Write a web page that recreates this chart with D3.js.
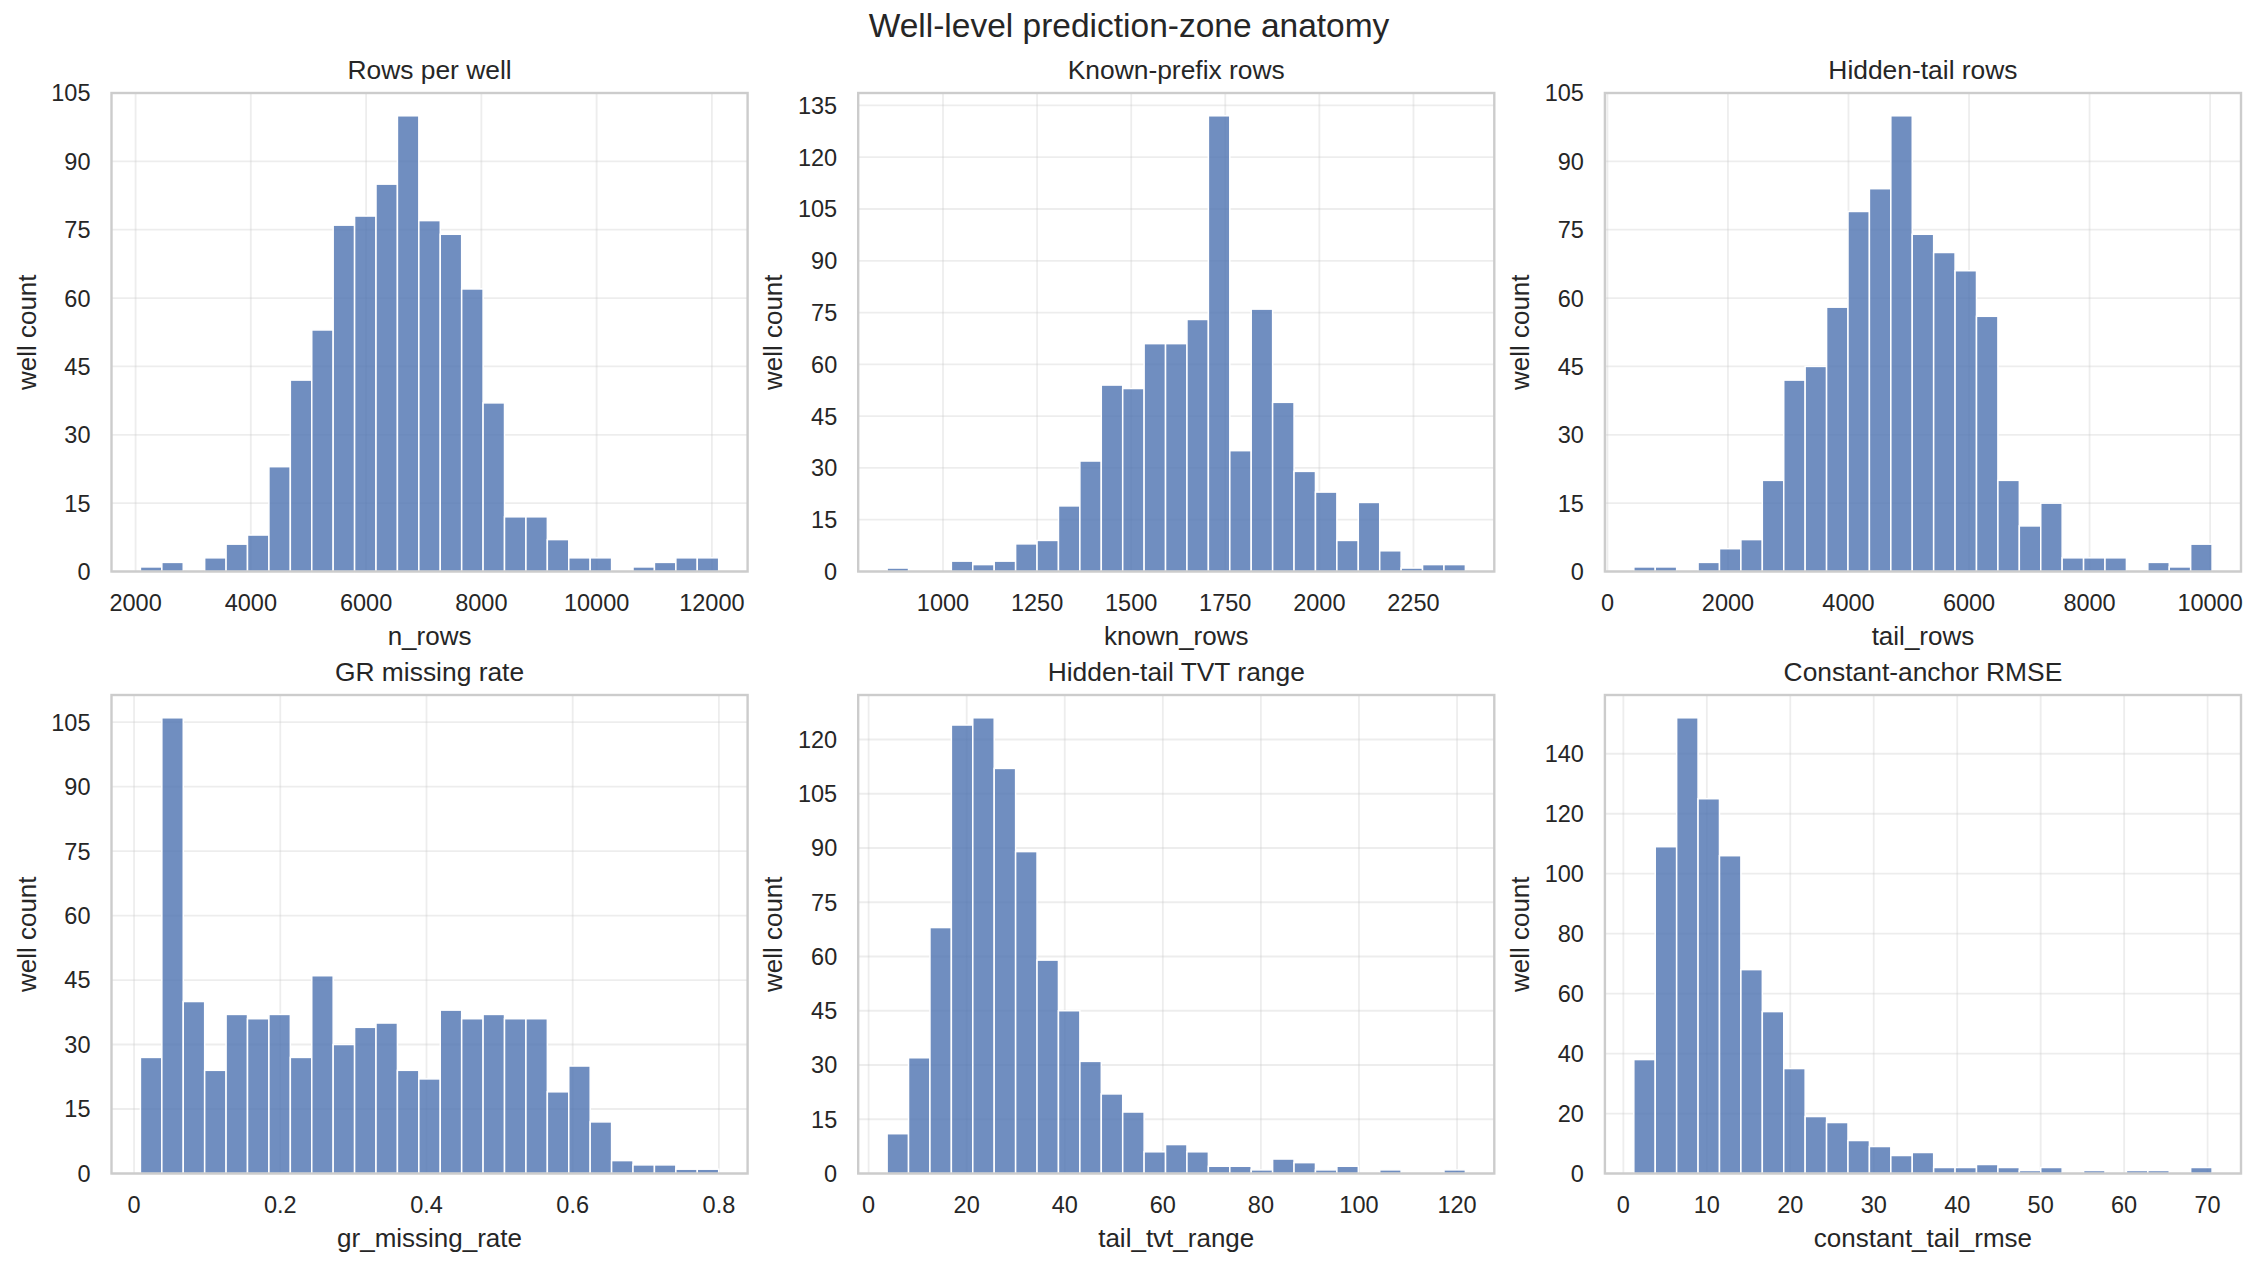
<!DOCTYPE html>
<html>
<head>
<meta charset="utf-8">
<script src="https://cdn.jsdelivr.net/npm/d3@7"></script>
<style>
  body { margin: 0; background: #fff; }
  text { font-family: "Liberation Sans", Arial, sans-serif; fill: #262626; }
</style>
</head>
<body>
<svg id="fig" width="2258" height="1266"></svg>
<script>

// counts per bin (27 bins each, 773 wells)
var n_rows_counts = [1,2,0,3,6,8,23,42,53,76,78,85,100,77,74,62,37,12,12,7,3,3,0,1,2,3,3];
var n_rows_range = [2084, 12118];
var n_rows_xticks = [2000,4000,6000,8000,10000,12000];
var n_rows_yticks = [0,15,30,45,60,75,90,105];

var known_counts = [1,0,0,3,2,3,8,9,19,32,54,53,66,66,73,132,35,76,49,29,23,9,20,6,1,2,2];
var known_range = [851.5, 2388];
var known_xticks = [1000,1250,1500,1750,2000,2250];
var known_yticks = [0,15,30,45,60,75,90,105,120,135];

var tail_counts = [1,1,0,2,5,7,20,42,45,58,79,84,100,74,70,66,56,20,10,15,3,3,3,0,2,1,6];
var tail_range = [438, 10033];
var tail_xticks = [0,2000,4000,6000,8000,10000];
var tail_yticks = [0,15,30,45,60,75,90,105];

var gr_counts = [27,106,40,24,37,36,37,27,46,30,34,35,24,22,38,36,37,36,36,19,25,12,3,2,2,1,1];
var gr_range = [0.0087, 0.7997];
var gr_xticks = [0,0.2,0.4,0.6,0.8];
var gr_yticks = [0,15,30,45,60,75,90,105];

var tvt_counts = [11,32,68,124,126,112,89,59,45,31,22,17,6,8,6,2,2,1,4,3,1,2,0,1,0,0,1];
var tvt_range = [3.77, 121.7];
var tvt_xticks = [0,20,40,60,80,100,120];
var tvt_yticks = [0,15,30,45,60,75,90,105,120];

var rmse_counts = [38,109,152,125,106,68,54,35,19,17,11,9,6,7,2,2,3,2,1,2,0,1,0,1,1,0,2];
var rmse_range = [1.25, 70.54];
var rmse_xticks = [0,10,20,30,40,50,60,70];
var rmse_yticks = [0,20,40,60,80,100,120,140];

var titles = ["Rows per well","Known-prefix rows","Hidden-tail rows","GR missing rate","Hidden-tail TVT range","Constant-anchor RMSE"];
var xlabels = ["n_rows","known_rows","tail_rows","gr_missing_rate","tail_tvt_range","constant_tail_rmse"];

var svg = d3.select("#fig");

var colLeft = [111.5, 858.2, 1604.9];
var rowTop = [93, 695];
var pw = 636.1, ph = 478.5;

svg.append("text")
    .attr("x", 1129)
    .attr("y", 37)
    .attr("text-anchor", "middle")
    .style("font-size", "33.5px")
    .text("Well-level prediction-zone anatomy");

function histPanel(i, counts, range, xticks, yticks) {
    var left = colLeft[i % 3], top = rowTop[Math.floor(i / 3)];
    var g = svg.append("g").attr("transform", "translate(" + left + "," + top + ")");

    // matplotlib style 5% margin on x, 5% headroom on y
    var pad = (range[1] - range[0]) * 0.05;
    var x = d3.scaleLinear().domain([range[0] - pad, range[1] + pad]).range([0, pw]);
    var y = d3.scaleLinear().domain([0, d3.max(counts) * 1.05]).range([ph, 0]);
    var edge = d3.scaleLinear().domain([0, counts.length]).range(range);

    // grid
    g.selectAll(".gx").data(xticks).enter().append("line")
        .attr("x1", d => x(d)).attr("x2", d => x(d))
        .attr("y1", 0).attr("y2", ph)
        .attr("stroke", "#cccccc").attr("stroke-opacity", 0.35).attr("stroke-width", 1.8);
    g.selectAll(".gy").data(yticks).enter().append("line")
        .attr("x1", 0).attr("x2", pw)
        .attr("y1", d => y(d)).attr("y2", d => y(d))
        .attr("stroke", "#cccccc").attr("stroke-opacity", 0.35).attr("stroke-width", 1.8);

    // bars (empty bins skipped, index kept)
    var bins = counts.map((c, j) => ({ c: c, j: j })).filter(b => b.c > 0);
    g.selectAll(".bar").data(bins).enter().append("rect")
        .attr("x", b => x(edge(b.j)))
        .attr("width", b => x(edge(b.j + 1)) - x(edge(b.j)))
        .attr("y", b => y(b.c))
        .attr("height", b => ph - y(b.c))
        .attr("fill", "#4C72B0").attr("fill-opacity", 0.8)
        .attr("stroke", "#ffffff").attr("stroke-width", 1.5);

    // tick labels
    g.selectAll(".tx").data(xticks).enter().append("text")
        .attr("x", d => x(d)).attr("y", ph + 39)
        .attr("text-anchor", "middle")
        .style("font-size", "23.5px")
        .text(d => String(d));
    g.selectAll(".ty").data(yticks).enter().append("text")
        .attr("x", -21).attr("y", d => y(d)).attr("dy", "0.36em")
        .attr("text-anchor", "end")
        .style("font-size", "23.5px")
        .text(d => String(d));

    // frame
    g.append("rect")
        .attr("width", pw).attr("height", ph)
        .attr("fill", "none").attr("stroke", "#cccccc").attr("stroke-width", 2.4);

    g.append("text")
        .attr("x", pw / 2).attr("y", -14)
        .attr("text-anchor", "middle")
        .style("font-size", "26.4px")
        .text(titles[i]);
    g.append("text")
        .attr("x", pw / 2).attr("y", ph + 73)
        .attr("text-anchor", "middle")
        .style("font-size", "26px")
        .text(xlabels[i]);
    g.append("text")
        .attr("transform", "translate(-76," + (ph / 2) + ") rotate(-90)")
        .attr("text-anchor", "middle")
        .style("font-size", "26px")
        .text("well count");
}

histPanel(0, n_rows_counts, n_rows_range, n_rows_xticks, n_rows_yticks);
histPanel(1, known_counts, known_range, known_xticks, known_yticks);
histPanel(2, tail_counts, tail_range, tail_xticks, tail_yticks);
histPanel(3, gr_counts, gr_range, gr_xticks, gr_yticks);
histPanel(4, tvt_counts, tvt_range, tvt_xticks, tvt_yticks);
histPanel(5, rmse_counts, rmse_range, rmse_xticks, rmse_yticks);
</script>
</body>
</html>
